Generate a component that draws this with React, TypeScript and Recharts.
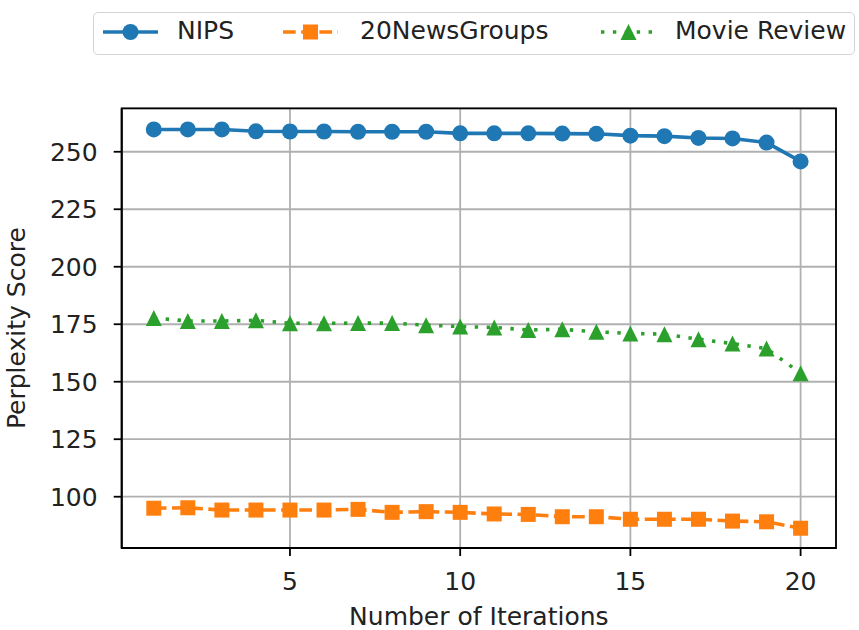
import React from "react";
import {
  CartesianGrid,
  Label,
  Legend,
  Line,
  LineChart,
  ReferenceArea,
  XAxis,
  YAxis,
} from "recharts";

const iterations = [1, 2, 3, 4, 5, 6, 7, 8, 9, 10, 11, 12, 13, 14, 15, 16, 17, 18, 19, 20];
const nips = [259.7, 259.7, 259.7, 258.9, 258.8, 258.8, 258.7, 258.7, 258.7, 258.0, 258.0, 258.0, 257.9, 257.8, 257.0, 256.8, 256.0, 255.8, 254.0, 245.8];
const newsGroups = [95.0, 95.2, 94.2, 94.2, 94.2, 94.2, 94.5, 93.2, 93.5, 93.2, 92.5, 92.3, 91.3, 91.3, 90.2, 90.2, 90.2, 89.4, 89.1, 86.3];
const movieReview = [177.7, 176.4, 176.4, 176.7, 175.4, 175.4, 175.5, 175.5, 174.6, 174.0, 173.6, 172.5, 172.8, 171.7, 171.0, 170.7, 168.5, 166.6, 164.4, 153.7];

const xTicks = [5, 10, 15, 20];
const yTicks = [100, 125, 150, 175, 200, 225, 250];

const data = iterations.map((it, i) => ({
  it,
  nips: nips[i],
  news: newsGroups[i],
  movie: movieReview[i],
}));

const FONT = "'DejaVu Sans', sans-serif";
const FS = 25;
const TEXT = "#222";
const LW = 3.6;
const MS = 16;

type Marker = "circle" | "square" | "triangle";

const series: { key: string; name: string; color: string; dash?: string; marker: Marker }[] = [
  { key: "nips", name: "NIPS", color: "#1f77b4", marker: "circle" },
  { key: "news", name: "20NewsGroups", color: "#ff7f0e", dash: "12.7 5.5", marker: "square" },
  { key: "movie", name: "Movie Review", color: "#2ca02c", dash: "3.4 8.5", marker: "triangle" },
];

function markerShape(kind: Marker, cx: number, cy: number, color: string, key?: string | number) {
  const h = MS / 2;
  if (kind === "circle") return <circle key={key} cx={cx} cy={cy} r={h} fill={color} />;
  if (kind === "square")
    return <rect key={key} x={cx - h + 0.5} y={cy - h + 0.5} width={MS - 1} height={MS - 1} fill={color} />;
  return (
    <polygon
      key={key}
      points={`${cx},${cy - h} ${cx - h},${cy + h} ${cx + h},${cy + h}`}
      fill={color}
    />
  );
}

// legend handles and labels laid out in one framed row
const handleX = [9, 189, 507];
const labelX = [83, 266, 581];

function LegendBox() {
  return (
    <div
      style={{
        position: "relative",
        width: 762,
        height: 43,
        boxSizing: "border-box",
        border: "1.5px solid #d4d4d4",
        borderRadius: 5,
        background: "#fff",
        fontFamily: FONT,
        fontSize: FS,
        color: TEXT,
      }}
    >
      {series.map((s, i) => (
        <React.Fragment key={s.key}>
          <svg
            width={55}
            height={24}
            style={{ position: "absolute", left: handleX[i], top: 7 }}
          >
            <line
              x1={0}
              y1={12}
              x2={55}
              y2={12}
              stroke={s.color}
              strokeWidth={LW}
              strokeDasharray={s.dash}
            />
            {markerShape(s.marker, 27.5, 12, s.color)}
          </svg>
          <span
            style={{
              position: "absolute",
              left: labelX[i],
              top: 3,
              lineHeight: "30px",
              whiteSpace: "nowrap",
            }}
          >
            {s.name}
          </span>
        </React.Fragment>
      ))}
    </div>
  );
}

export default function App() {
  return (
    <div style={{ position: "absolute", left: 0, top: 0, background: "#fff" }}>
      <LineChart
        width={859}
        height={630}
        data={data}
        margin={{ top: 108.3, right: 23, bottom: 0, left: 20 }}
      >
        <CartesianGrid stroke="#b0b0b0" strokeWidth={1.8} />
        <XAxis
          dataKey="it"
          type="number"
          domain={[0.057, 21.04]}
          ticks={xTicks}
          allowDataOverflow
          height={82}
          tickSize={8}
          tickMargin={16}
          tick={{ fontFamily: FONT, fontSize: FS, fill: TEXT }}
          tickLine={{ stroke: "#000", strokeWidth: 1.8 }}
          axisLine={{ stroke: "#000", strokeWidth: 1.8 }}
        >
          <Label
            content={({ viewBox }: any) => (
              <text
                x={viewBox.x + viewBox.width / 2}
                y={625}
                textAnchor="middle"
                fontFamily={FONT}
                fontSize={FS}
                fill={TEXT}
              >
                Number of Iterations
              </text>
            )}
          />
        </XAxis>
        <YAxis
          type="number"
          domain={[77.7, 268.9]}
          ticks={yTicks}
          allowDataOverflow
          width={101.7}
          tickSize={8}
          tickMargin={16}
          tick={{ fontFamily: FONT, fontSize: FS, fill: TEXT }}
          tickLine={{ stroke: "#000", strokeWidth: 1.8 }}
          axisLine={{ stroke: "#000", strokeWidth: 1.8 }}
        >
          <Label
            content={({ viewBox }: any) => {
              const cy = viewBox.y + viewBox.height / 2;
              return (
                <text
                  x={25}
                  y={cy}
                  transform={`rotate(-90 25 ${cy})`}
                  textAnchor="middle"
                  fontFamily={FONT}
                  fontSize={FS}
                  fill={TEXT}
                >
                  Perplexity Score
                </text>
              );
            }}
          />
        </YAxis>
        <ReferenceArea
          x1={0.057}
          x2={21.04}
          y1={77.7}
          y2={268.9}
          fill="none"
          stroke="#000"
          strokeWidth={1.8}
          fillOpacity={0}
        />
        {series.map((s) => (
          <Line
            key={s.key}
            dataKey={s.key}
            name={s.name}
            type="linear"
            stroke={s.color}
            strokeWidth={LW}
            strokeDasharray={s.dash}
            isAnimationActive={false}
            dot={(p: any) => markerShape(s.marker, p.cx, p.cy, s.color, `${s.key}-${p.index}`)}
            activeDot={false}
          />
        ))}
        <Legend
          layout="horizontal"
          align="center"
          verticalAlign="middle"
          wrapperStyle={{ left: 93, top: 12, width: 762, height: 43 }}
          content={() => <LegendBox />}
        />
      </LineChart>
    </div>
  );
}
